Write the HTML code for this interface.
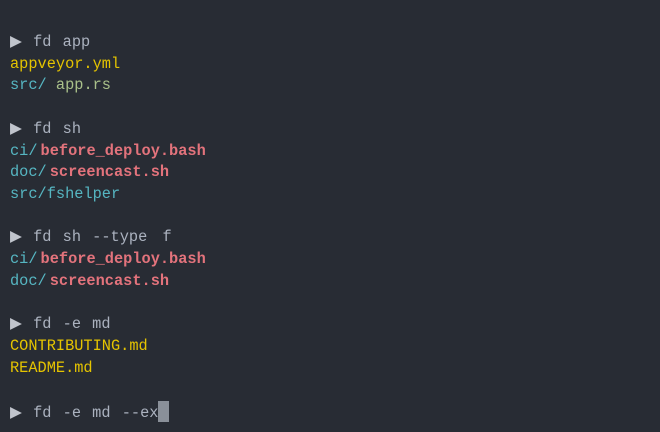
<!DOCTYPE html>
<html><head><style>
html,body{margin:0;padding:0;}
body{width:660px;height:432px;background:#282c34;overflow:hidden;}
pre{margin:0;position:absolute;left:10px;top:32px;font-family:"Liberation Mono","DejaVu Sans Mono",monospace;font-size:15.3px;line-height:21.7px;color:#abb2bf;}
.y{color:#e5c400}.t{color:#56b6c2}.g{color:#a9c08a}.p{color:#e3737c;font-weight:bold}
.c{word-spacing:2px}
.tri{color:#c0c4cc;font-size:15.5px;font-family:"DejaVu Sans",sans-serif;line-height:0}
.cur{display:inline-block;width:11px;height:21px;background:#8a9099;vertical-align:-5px;}
.sl{margin-right:3px}
.f{margin-left:4px}
</style></head><body>
<pre><span class="c"><span class="tri">▶</span> fd app</span>
<span class="y">appveyor.yml</span>
<span class="t">src/</span> <span class="g">app.rs</span>

<span class="c"><span class="tri">▶</span> fd sh</span>
<span class="t sl">ci/</span><span class="p">before_deploy.bash</span>
<span class="t sl">doc/</span><span class="p">screencast.sh</span>
<span class="t">src/fshelper</span>

<span class="c"><span class="tri">▶</span> fd sh --type <span class="f">f</span></span>
<span class="t sl">ci/</span><span class="p">before_deploy.bash</span>
<span class="t sl">doc/</span><span class="p">screencast.sh</span>

<span class="c"><span class="tri">▶</span> fd -e md</span>
<span class="y">CONTRIBUTING.md</span>
<span class="y">README.md</span>

<span class="c"><span class="tri">▶</span> fd -e md --ex</span><span class="cur"></span></pre>
</body></html>
